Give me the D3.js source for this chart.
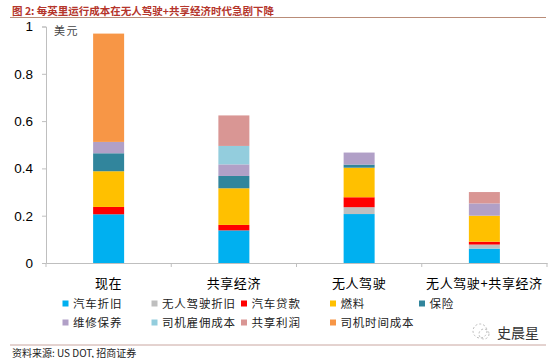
<!DOCTYPE html>
<html><head><meta charset="utf-8">
<script src="https://cdn.jsdelivr.net/npm/d3@7/dist/d3.min.js"></script>
<style>
body{margin:0;background:#fff;}
svg{display:block;}
</style></head>
<body><svg id="c" width="554" height="358"></svg>
<script>
const categories = ["现在", "共享经济", "无人驾驶", "无人驾驶+共享经济"];
const seriesNames = ["汽车折旧", "无人驾驶折旧", "汽车贷款", "燃料", "保险", "维修保养", "司机雇佣成本", "共享利润", "司机时间成本"];
const seriesColors = ["#00B0F0", "#BFBFBF", "#FF0000", "#FFC000", "#31859C", "#B1A0C7", "#93CDDD", "#D99694", "#F79646"];
// values per series, in category order
const vDepreciation   = [0.206, 0.138, 0.207, 0.061];
const vAVDepreciation = [0.000, 0.000, 0.029, 0.017];
const vLoan           = [0.031, 0.023, 0.042, 0.012];
const vFuel           = [0.151, 0.155, 0.125, 0.110];
const vInsurance      = [0.076, 0.052, 0.013, 0.000];
const vMaintenance    = [0.048, 0.049, 0.051, 0.052];
const vDriverHire     = [0.000, 0.078, 0.000, 0.000];
const vShareProfit    = [0.000, 0.129, 0.000, 0.048];
const vDriverTime     = [0.458, 0.000, 0.000, 0.000];
const yTicks = [0, 0.2, 0.4, 0.6, 0.8, 1];
const yTickLabels = ["0", "0.2", "0.4", "0.6", "0.8", "1"];

const seriesValues = [vDepreciation, vAVDepreciation, vLoan, vFuel, vInsurance, vMaintenance, vDriverHire, vShareProfit, vDriverTime];
const rows = categories.map((c, i) => {
  const r = {cat: c};
  seriesNames.forEach((s, j) => r[s] = seriesValues[j][i]);
  return r;
});

const svg = d3.select("#c");
const L = 46, R = 547, T = 26.5, B = 263;
const x = d3.scaleBand().domain(categories).range([L, R]).paddingInner(0).paddingOuter(0);
const y = d3.scaleLinear().domain([0, 1]).range([B, T]);
const barW = 31;

// title
svg.append("text").attr("x", 12).attr("y", 14.5)
  .attr("font-family", "'Noto Sans CJK SC'").attr("font-weight", "bold")
  .attr("font-size", 10.5).attr("fill", "#B5352B")
  .text("图 2:  每英里运行成本在无人驾驶+共享经济时代急剧下降");
svg.append("line").attr("x1", 10).attr("x2", 546).attr("y1", 17.5).attr("y2", 17.5)
  .attr("stroke", "#B98C78").attr("stroke-width", 1);

// bars
const stack = d3.stack().keys(seriesNames)(rows);
svg.append("g").selectAll("g").data(stack).join("g")
  .attr("fill", (d, i) => seriesColors[i])
  .selectAll("rect").data(d => d).join("rect")
  .attr("x", d => x(d.data.cat) + x.bandwidth() / 2 - barW / 2)
  .attr("width", barW)
  .attr("y", d => y(d[1]))
  .attr("height", d => Math.max(0, y(d[0]) - y(d[1])));

// y axis
const yAxis = svg.append("g").attr("transform", `translate(${L},0)`)
  .call(d3.axisLeft(y).tickValues(yTicks).tickFormat((d, i) => yTickLabels[i]).tickSize(4).tickPadding(9));
yAxis.select(".domain").attr("stroke", "#BFBFBF");
yAxis.selectAll(".tick line").attr("stroke", "#BFBFBF");
yAxis.selectAll(".tick text").attr("font-family", "'Liberation Sans', Arial").attr("font-size", 13.5).attr("fill", "#000");

// x axis
const xAxis = svg.append("g").attr("transform", `translate(0,${B})`)
  .call(d3.axisBottom(x).tickSize(0).tickFormat(""));
xAxis.select(".domain").attr("stroke", "#BFBFBF");
xAxis.selectAll(".tick").remove();
const bounds = categories.map(c => x(c)).concat([R]);
xAxis.selectAll("line.b").data(bounds).join("line").attr("class", "b")
  .attr("x1", d => d).attr("x2", d => d).attr("y1", 0).attr("y2", 4)
  .attr("stroke", "#BFBFBF");

svg.append("g").selectAll("text").data(categories).join("text")
  .attr("x", d => x(d) + x.bandwidth() / 2)
  .attr("y", 288)
  .attr("text-anchor", "middle")
  .attr("font-family", "'Noto Sans CJK SC'").attr("font-size", 13)
  .attr("letter-spacing", 0.6)
  .attr("fill", "#000")
  .text(d => d);

// unit label
svg.append("text").attr("x", 54).attr("y", 35)
  .attr("font-family", "'Noto Sans CJK SC'").attr("font-size", 11).attr("fill", "#444")
  .attr("letter-spacing", 1.5)
  .text("美元");

// legend
const colX = [62.5, 151.5, 241, 330, 419];
const rowY = [303.5, 322.5];
const lg = svg.append("g").selectAll("g").data(seriesNames).join("g")
  .attr("transform", (d, i) => `translate(${colX[i % 5]},${rowY[Math.floor(i / 5)]})`);
lg.append("rect").attr("x", 0).attr("y", -3).attr("width", 6).attr("height", 6)
  .attr("fill", (d, i) => seriesColors[i]);
lg.append("text").attr("x", 10.5).attr("y", 4.5)
  .attr("font-family", "'Noto Sans CJK SC'").attr("font-size", 11.5).attr("letter-spacing", 0.8)
  .attr("fill", "#222").text(d => d);

// watermark
const wm = svg.append("g").attr("transform", "translate(480,331)");
wm.append("circle").attr("r", 7).attr("fill", "none").attr("stroke", "#bbb").attr("stroke-dasharray", "2,2");
wm.append("circle").attr("cx", 4).attr("cy", 3).attr("r", 5).attr("fill", "none").attr("stroke", "#bbb").attr("stroke-dasharray", "2,2");
svg.append("text").attr("x", 497).attr("y", 338)
  .attr("font-family", "'Noto Sans CJK SC'").attr("font-size", 14).attr("fill", "#333")
  .text("史晨星");

// footer
svg.append("line").attr("x1", 10).attr("x2", 546).attr("y1", 345).attr("y2", 345)
  .attr("stroke", "#C9A6A0").attr("stroke-width", 1);
svg.append("text").attr("x", 12).attr("y", 356.5)
  .attr("font-family", "'Noto Sans CJK SC'").attr("font-size", 10).attr("fill", "#222")
  .text("资料来源: US DOT, 招商证券");
</script>
</body></html>
